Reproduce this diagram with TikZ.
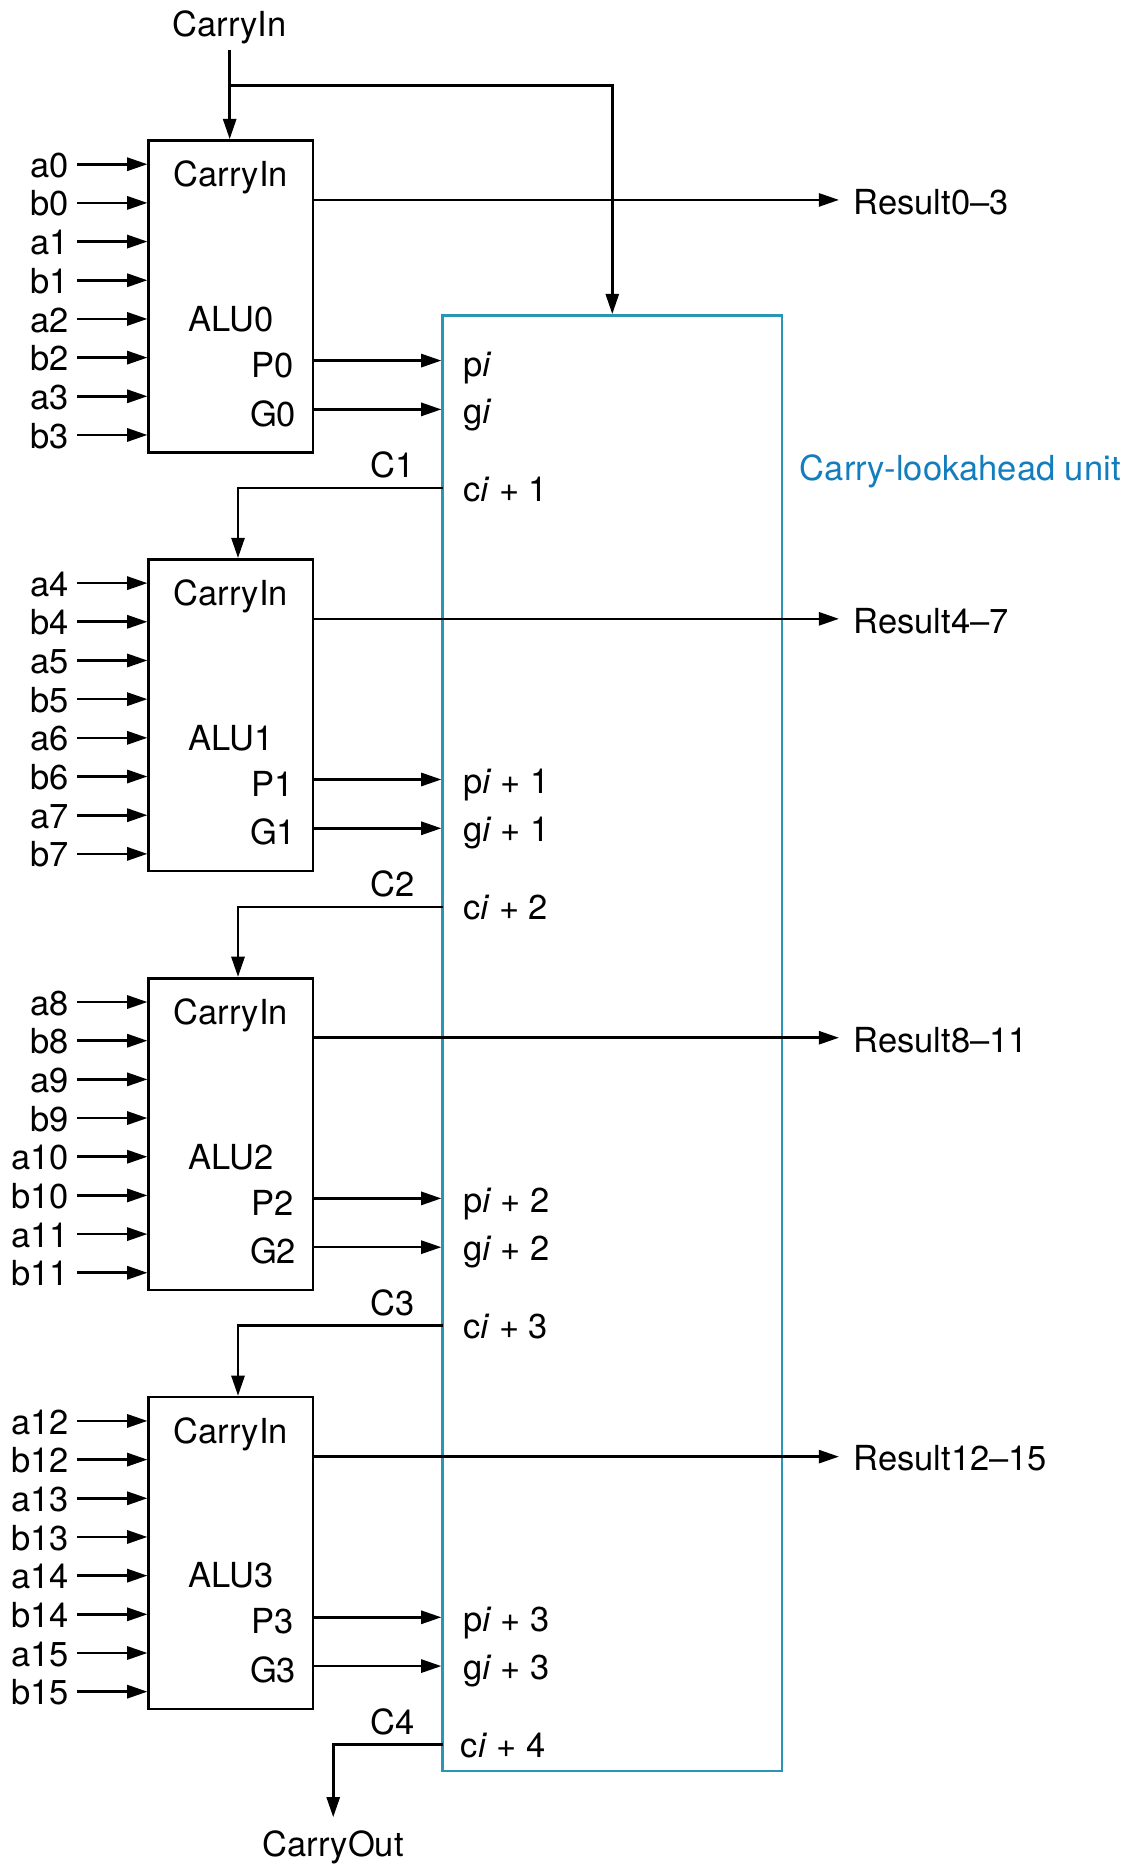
\documentclass[tikz,border=0pt]{standalone}
\usepackage{fontspec}
\setmainfont{TeX Gyre Heros}
\usetikzlibrary{arrows.meta}
\definecolor{clabox}{RGB}{40,150,180}
\definecolor{clatext}{RGB}{20,125,190}
\begin{document}
\begin{tikzpicture}[x=1pt,y=-1pt,
  lbl/.style={font=\fontsize{29}{34}\selectfont, inner sep=0pt},
  wire/.style={line width=2.2pt, draw=black},
  arr/.style={wire, -{Triangle[length=17pt,width=11pt]}},
  alubox/.style={draw=black, line width=2.2pt, minimum width=138pt, minimum height=262pt, inner sep=0pt},
  clabx/.style={draw=clabox, line width=2.2pt, minimum width=285pt, minimum height=1223pt, inner sep=0pt}]
\useasboundingbox (0,0) rectangle (960,1568);
% carry-lookahead unit
\node[clabx] (cla) at (514.5,876.5) {};
\node[lbl, text=clatext, anchor=base west] (clalbl) at (672,404) {Carry-lookahead unit};
% top carry in
\node[lbl] (cintxt) at (193,23) {CarryIn};
\coordinate (cintop) at (193,42);
\coordinate (branch) at (193,72);
\foreach \k in {0,...,3} {
  \pgfmathsetmacro\oy{352*\k}
  \pgfmathtruncatemacro\kk{\k+1}
  \node[alubox] (alu\k) at (194,249+\oy) {};
  \node[lbl] (cin\k) at (194,149+\oy) {CarryIn};
  \node[lbl] (name\k) at (194,268+\oy) {ALU\k};
  \node[lbl, anchor=base east] (P\k) at (247,317+\oy) {P\k};
  \node[lbl, anchor=base east] (G\k) at (249,358+\oy) {G\k};
  \foreach \j in {0,...,3} {
    \pgfmathtruncatemacro\n{4*\k+\j}
    \pgfmathsetmacro\ya{138+65*\j+\oy}
    \pgfmathsetmacro\yb{170.5+65*\j+\oy}
    \coordinate (ina\n) at (65,\ya);
    \coordinate (inb\n) at (65,\yb);
    \node[lbl, anchor=base east] (la\n) at (58,\ya+11) {a\n};
    \node[lbl, anchor=base east] (lb\n) at (58,\yb+11) {b\n};
    \draw[arr] (ina\n) -- (alu\k.west |- ina\n);
    \draw[arr] (inb\n) -- (alu\k.west |- inb\n);
  }
  % result
  \coordinate (res\k) at (263,168+\oy);
  \coordinate (rese\k) at (705,168+\oy);
  \draw[arr] (alu\k.east |- res\k) -- (rese\k);
  % p and g
  \coordinate (py\k) at (300,303+\oy);
  \coordinate (gy\k) at (300,344+\oy);
  \draw[arr] (alu\k.east |- py\k) -- (cla.west |- py\k);
  \draw[arr] (alu\k.east |- gy\k) -- (cla.west |- gy\k);
  % carry out of CLA
  \coordinate (cc\k) at (372,410+\oy);
  \node[lbl] (C\kk) at (330,391+\oy) {C\kk};
}
\node[lbl, anchor=base west] (r0) at (717,180) {Result0–3};
\node[lbl, anchor=base west] (r1) at (717,532) {Result4–7};
\node[lbl, anchor=base west] (r2) at (717,884) {Result8–11};
\node[lbl, anchor=base west] (r3) at (717,1236) {Result12–15};
% CLA port labels
\node[lbl, anchor=base west] (pi0) at (389,316) {p\textit{i}};
\node[lbl, anchor=base west] (gi0) at (389,356) {g\textit{i}};
\node[lbl, anchor=base west] (pi1) at (389,667) {p\textit{i} + 1};
\node[lbl, anchor=base west] (gi1) at (389,707) {g\textit{i} + 1};
\node[lbl, anchor=base west] (pi2) at (389,1019) {p\textit{i} + 2};
\node[lbl, anchor=base west] (gi2) at (389,1059) {g\textit{i} + 2};
\node[lbl, anchor=base west] (pi3) at (389,1371) {p\textit{i} + 3};
\node[lbl, anchor=base west] (gi3) at (389,1411) {g\textit{i} + 3};
\node[lbl, anchor=base west] (ci1) at (389,421) {c\textit{i} + 1};
\node[lbl, anchor=base west] (ci2) at (389,773) {c\textit{i} + 2};
\node[lbl, anchor=base west] (ci3) at (389,1125) {c\textit{i} + 3};
\node[lbl, anchor=base west] (ci4) at (387,1477) {c\textit{i} + 4};
% carry wiring
\draw[arr] (cintop) -- (alu0.north -| cintop);
\draw[arr] (branch) -| (cla.north);
\draw[arr] (cc0) -| ([xshift=6pt]alu1.north);
\draw[arr] (cc1) -| ([xshift=6pt]alu2.north);
\draw[arr] (cc2) -| ([xshift=6pt]alu3.north);
\coordinate (coutc) at (280,1527);
\draw[arr] (cc3) -| (coutc);
\node[lbl] (cout) at (280,1552) {CarryOut};
\end{tikzpicture}
\end{document}
